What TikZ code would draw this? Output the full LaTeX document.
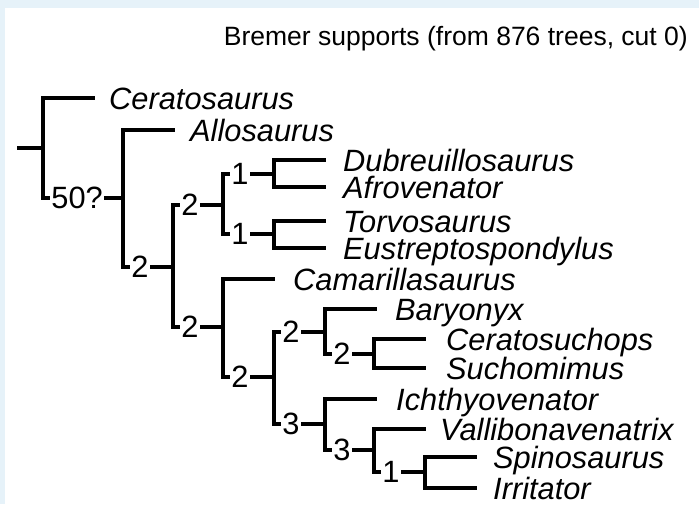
\documentclass[tikz,border=0pt]{standalone}
\usepackage{fontspec}
\setmainfont{Liberation Sans}
\definecolor{bgblue}{RGB}{230,242,249}
\begin{document}
\begin{tikzpicture}[x=1pt,y=-1pt,
  br/.style={line width=3.1pt, line join=miter, line cap=butt},
  tipname/.style={anchor=base west, inner sep=0pt, font=\fontsize{30.8}{33}\selectfont\itshape},
  support/.style={anchor=west, fill=white, inner sep=1.2pt, font=\fontsize{30.8}{33}\selectfont},
  heading/.style={anchor=base east, inner sep=0pt, font=\fontsize{26.5}{29}\selectfont}]
\useasboundingbox (0,0) rectangle (699,504);
\fill[bgblue] (0,0) rectangle (699,504);
\fill[white] (5,8) rectangle (699,504);
\node[heading] (title) at (688,45) {Bremer supports (from 876 trees, cut 0)};
% internal nodes
\coordinate (stem) at (17,148);
\coordinate (root) at (43,148);
\coordinate (n50) at (123,198);
\coordinate (n2a) at (173,267);
\coordinate (n2b) at (223,205);
\coordinate (n1a) at (274,174);
\coordinate (n1b) at (274,234);
\coordinate (n2c) at (223,327);
\coordinate (n2d) at (274,377);
\coordinate (n2e) at (325,332);
\coordinate (n2f) at (374,354);
\coordinate (n3a) at (325,424);
\coordinate (n3b) at (374,450);
\coordinate (n1c) at (425,472);
% tip line ends
\coordinate (cera) at (95,98);
\coordinate (allo) at (175,130);
\coordinate (dub) at (326,160);
\coordinate (afro) at (326,187);
\coordinate (torvo) at (326,221);
\coordinate (eustr) at (326,248);
\coordinate (camar) at (275,279);
\coordinate (bary) at (377,309);
\coordinate (ceras) at (426,339);
\coordinate (sucho) at (426,368);
\coordinate (ichth) at (377,399);
\coordinate (valli) at (426,429);
\coordinate (spino) at (477,457);
\coordinate (irrit) at (477,488);
% tip names
\node[tipname] (tCera) at (109,109) {Ceratosaurus};
\node[tipname] (tAllo) at (190,141) {Allosaurus};
\node[tipname] (tDub) at (343,171) {Dubreuillosaurus};
\node[tipname] (tAfro) at (343,198) {Afrovenator};
\node[tipname] (tTorvo) at (343,232) {Torvosaurus};
\node[tipname] (tEustr) at (343,259) {Eustreptospondylus};
\node[tipname] (tCamar) at (293,290) {Camarillasaurus};
\node[tipname] (tBary) at (395,320) {Baryonyx};
\node[tipname] (tCeras) at (446,350) {Ceratosuchops};
\node[tipname] (tSucho) at (446,379) {Suchomimus};
\node[tipname] (tIchth) at (396,410) {Ichthyovenator};
\node[tipname] (tValli) at (440,440) {Vallibonavenatrix};
\node[tipname] (tSpino) at (493,468) {Spinosaurus};
\node[tipname] (tIrrit) at (493,499) {Irritator};
% branches
\draw[br] (stem) -- (root);
\draw[br] (root) |- (cera);
\draw[br] (root) |- (n50);
\draw[br] (n50) |- (allo);
\draw[br] (n50) |- (n2a);
\draw[br] (n2a) |- (n2b);
\draw[br] (n2a) |- (n2c);
\draw[br] (n2b) |- (n1a);
\draw[br] (n2b) |- (n1b);
\draw[br] (n1a) |- (dub);
\draw[br] (n1a) |- (afro);
\draw[br] (n1b) |- (torvo);
\draw[br] (n1b) |- (eustr);
\draw[br] (n2c) |- (camar);
\draw[br] (n2c) |- (n2d);
\draw[br] (n2d) |- (n2e);
\draw[br] (n2d) |- (n3a);
\draw[br] (n2e) |- (bary);
\draw[br] (n2e) |- (n2f);
\draw[br] (n2f) |- (ceras);
\draw[br] (n2f) |- (sucho);
\draw[br] (n3a) |- (ichth);
\draw[br] (n3a) |- (n3b);
\draw[br] (n3b) |- (valli);
\draw[br] (n3b) |- (n1c);
\draw[br] (n1c) |- (spino);
\draw[br] (n1c) |- (irrit);
% support labels
\node[support] (s50) at (50,198) {50?};
\node[support] (s2a) at (130,267) {2};
\node[support] (s2b) at (180,205) {2};
\node[support] (s1a) at (230,174) {1};
\node[support] (s1b) at (230,234) {1};
\node[support] (s2c) at (180,327) {2};
\node[support] (s2d) at (230,377) {2};
\node[support] (s2e) at (281,332) {2};
\node[support] (s2f) at (332,354) {2};
\node[support] (s3a) at (281,424) {3};
\node[support] (s3b) at (332,450) {3};
\node[support] (s1c) at (381,472) {1};
\end{tikzpicture}
\end{document}
